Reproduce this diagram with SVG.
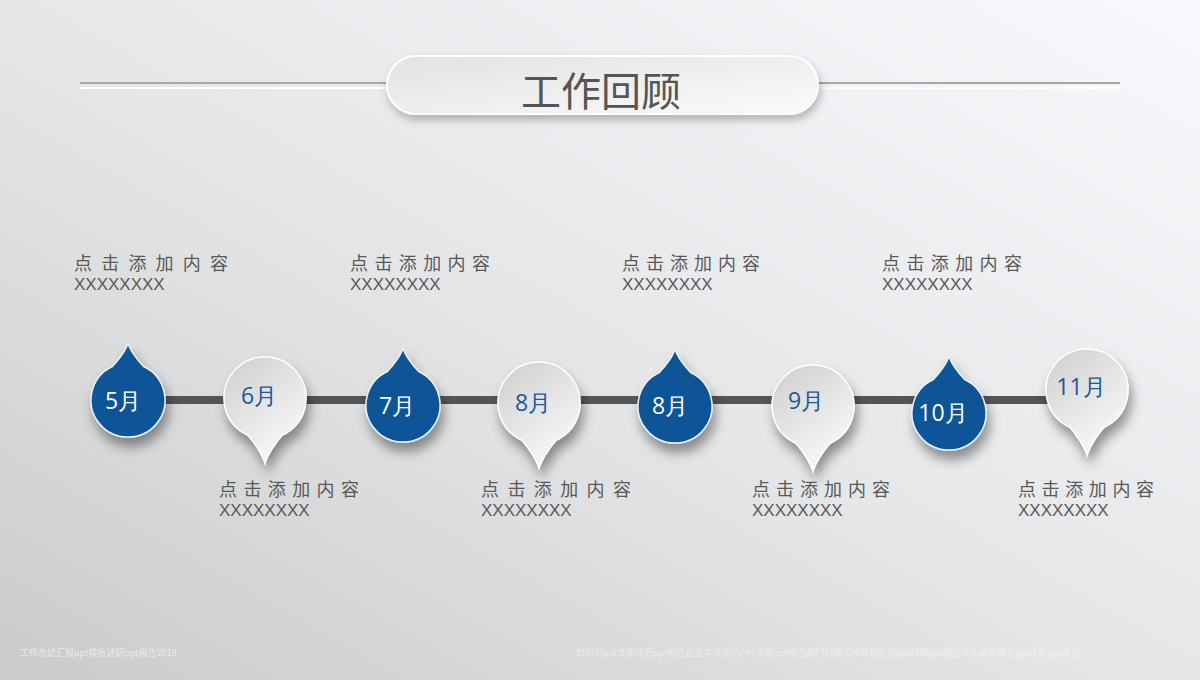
<svg xmlns="http://www.w3.org/2000/svg" width="1200" height="680" viewBox="0 0 1200 680">
<defs>
<linearGradient id="bg" x1="0" y1="1" x2="1" y2="0">
<stop offset="0" stop-color="#cbcbcb"/>
<stop offset="0.5" stop-color="#e6e7e9"/>
<stop offset="1" stop-color="#f7f9fc"/>
</linearGradient>
<linearGradient id="pill" x1="0" y1="0" x2="1" y2="1">
<stop offset="0" stop-color="#e2e2e2"/>
<stop offset="1" stop-color="#fbfbfb"/>
</linearGradient>
<linearGradient id="pin" x1="0.1" y1="0" x2="0.7" y2="1">
<stop offset="0" stop-color="#d0d0d0"/>
<stop offset="1" stop-color="#fafafa"/>
</linearGradient>
<filter id="sh" x="-50%" y="-50%" width="200%" height="200%">
<feDropShadow dx="3" dy="9" stdDeviation="6" flood-color="#000" flood-opacity="0.4"/>
</filter>
<filter id="sh2" x="-20%" y="-50%" width="140%" height="200%">
<feDropShadow dx="2" dy="5" stdDeviation="4" flood-color="#000" flood-opacity="0.25"/>
</filter>
<path id="drop" d="M0,-57 C2,-50 9,-40 15.6,-33.5 A37,37 0 1 1 -15.6,-33.5 C-9,-40 -2,-50 0,-57 Z"/>
<path id="pinshape" d="M0,65 C-2,58 -10,45 -17,37.3 A41,41 0 1 1 17,37.3 C10,45 2,58 0,65 Z"/>
</defs>
<style>
.blue{fill:#0b5596;stroke:#e8f0f8;stroke-width:1.5}
.white{fill:url(#pin);stroke:#ffffff;stroke-width:1.5}
.ml{font-family:"Open Sans","Noto Sans",sans-serif;font-size:23px;text-anchor:middle}
.mw{fill:#ffffff}
.mb{fill:#1b5a97}
.h{font-family:"Noto Sans CJK SC","Noto Sans",sans-serif;font-size:18px;fill:#595959}
.x{font-family:"Liberation Sans",Arial,sans-serif;font-size:17px;fill:#595959}
</style>
<rect width="1200" height="680" fill="url(#bg)"/>
<text x="20" y="656" font-family="Noto Sans CJK SC, sans-serif" font-size="9" fill="#ffffff" opacity="0.55">工作总结汇报ppt模板述职ppt报告2019</text>
<text x="1080" y="656" text-anchor="end" font-family="Noto Sans CJK SC, sans-serif" font-size="9" fill="#ffffff" opacity="0.45">如何写ppt文案述职ppt报告企业年终总结PPT述职ppt报告部门经理工作总结汇报ppt述职ppt报告个人述职报告ppt述职ppt报告</text>

<g id="title">
<line x1="80" y1="83" x2="390" y2="83" stroke="#a8a8a8" stroke-width="2"/>
<line x1="80" y1="88" x2="390" y2="88" stroke="#ffffff" stroke-width="2"/>
<line x1="815" y1="83" x2="1120" y2="83" stroke="#a8a8a8" stroke-width="2"/>
<line x1="815" y1="88" x2="1120" y2="88" stroke="#ffffff" stroke-width="1.5"/>
<rect x="387" y="56" width="431" height="58" rx="29" fill="url(#pill)" stroke="#ffffff" stroke-width="2" filter="url(#sh2)"/>
<text x="601" y="106" text-anchor="middle" font-family="Noto Sans CJK SC, sans-serif" font-size="40" fill="#555555">工作回顾</text>
</g>

<g id="connectors">
<line x1="128" y1="400" x2="1087" y2="400" stroke="#555555" stroke-width="8"/>
</g>

<g id="n5"><use href="#drop" class="blue" transform="translate(128,400)" filter="url(#sh)"/><text class="ml mw" x="123" y="409">5月</text></g>
<g id="n6"><use href="#pinshape" class="white" transform="translate(265,398)" filter="url(#sh)"/><text class="ml mb" x="259" y="404">6月</text></g>
<g id="n7"><use href="#drop" class="blue" transform="translate(403,405)" filter="url(#sh)"/><text class="ml mw" x="397" y="414">7月</text></g>
<g id="n8a"><use href="#pinshape" class="white" transform="translate(539,403)" filter="url(#sh)"/><text class="ml mb" x="533" y="411">8月</text></g>
<g id="n8b"><use href="#drop" class="blue" transform="translate(675,406)" filter="url(#sh)"/><text class="ml mw" x="670" y="414">8月</text></g>
<g id="n9"><use href="#pinshape" class="white" transform="translate(813,406)" filter="url(#sh)"/><text class="ml mb" x="806" y="409">9月</text></g>
<g id="n10"><use href="#drop" class="blue" transform="translate(949,413)" filter="url(#sh)"/><text class="ml mw" x="943" y="421">10月</text></g>
<g id="n11"><use href="#pinshape" class="white" transform="translate(1087,390)" filter="url(#sh)"/><text class="ml mb" x="1081" y="395">11月</text></g>

<g id="t1"><text class="h" x="74" y="270" textLength="154" lengthAdjust="spacing">点 击 添 加 内 容</text><text class="x" x="74" y="290">XXXXXXXX</text></g>
<g id="t2"><text class="h" x="350" y="270" textLength="140" lengthAdjust="spacing">点 击 添 加 内 容</text><text class="x" x="350" y="290">XXXXXXXX</text></g>
<g id="t3"><text class="h" x="622" y="270" textLength="138" lengthAdjust="spacing">点 击 添 加 内 容</text><text class="x" x="622" y="290">XXXXXXXX</text></g>
<g id="t4"><text class="h" x="882" y="270" textLength="140" lengthAdjust="spacing">点 击 添 加 内 容</text><text class="x" x="882" y="290">XXXXXXXX</text></g>
<g id="b1"><text class="h" x="219" y="496" textLength="140" lengthAdjust="spacing">点 击 添 加 内 容</text><text class="x" x="219" y="516">XXXXXXXX</text></g>
<g id="b2"><text class="h" x="481" y="496" textLength="150" lengthAdjust="spacing">点 击 添 加 内 容</text><text class="x" x="481" y="516">XXXXXXXX</text></g>
<g id="b3"><text class="h" x="752" y="496" textLength="138" lengthAdjust="spacing">点 击 添 加 内 容</text><text class="x" x="752" y="516">XXXXXXXX</text></g>
<g id="b4"><text class="h" x="1018" y="496" textLength="136" lengthAdjust="spacing">点 击 添 加 内 容</text><text class="x" x="1018" y="516">XXXXXXXX</text></g>
</svg>
